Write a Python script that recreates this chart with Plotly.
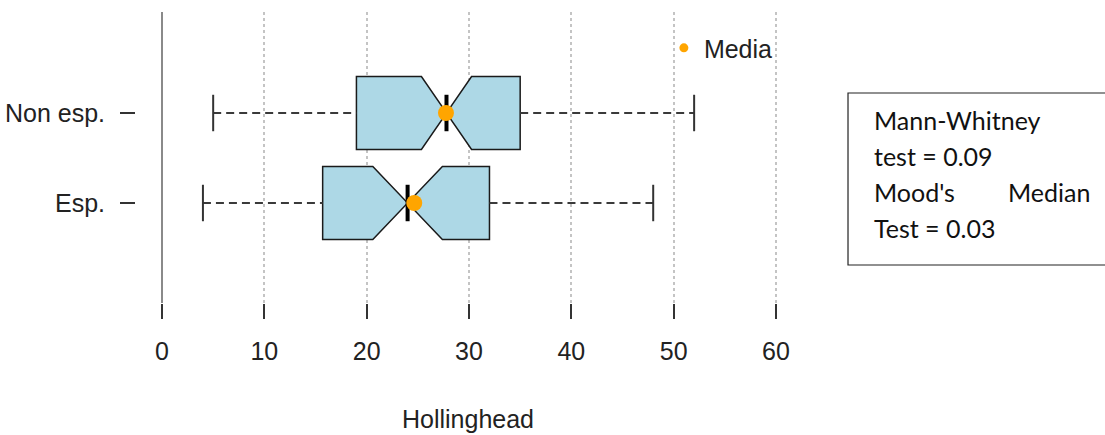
import plotly.graph_objects as go

# Groups (drawn top to bottom: Non esp., Esp.)
groups = ["Non esp.", "Esp."]
positions = [2, 1]

# Five-number summaries of Hollinghead scores
lower_whisker = [5.0, 4.0]
q1 = [19.0, 15.7]
median = [27.8, 24.0]
q3 = [35.0, 32.0]
upper_whisker = [52.0, 48.0]
notch_half = [2.45, 3.4]
means = [27.75, 24.65]

x_ticks = [0, 10, 20, 30, 40, 50, 60]

BOX_W = 0.81
CAP_HALF = BOX_W / 4
NOTCH_HALF = BOX_W / 4

axis_font = dict(family="Liberation Sans, Arial, sans-serif", size=25, color="#222222")
note_font = dict(family="Lato, Carlito, Calibri, sans-serif", size=25, color="#111111")

fig = go.Figure()

# Notched boxes (whiskers drawn separately so they can be dashed)
fig.add_trace(go.Box(
    orientation="h",
    y=positions,
    q1=q1, median=median, q3=q3,
    lowerfence=q1, upperfence=q3,
    notched=True,
    notchspan=notch_half,
    notchwidth=0.5,
    width=BOX_W,
    whiskerwidth=0,
    fillcolor="#ADD8E6",
    line=dict(color="#1a1a1a", width=1.5),
    boxpoints=False,
    hoverinfo="skip",
    showlegend=False,
))

# Dashed whiskers
wx, wy = [], []
for lo, a, b, hi, p in zip(lower_whisker, q1, q3, upper_whisker, positions):
    wx += [lo, a, None, b, hi, None]
    wy += [p, p, None, p, p, None]
fig.add_trace(go.Scatter(
    x=wx, y=wy, mode="lines",
    line=dict(color="#3a3a3a", width=2, dash="8px,5px"),
    hoverinfo="skip", showlegend=False,
))

# Whisker caps
cx, cy = [], []
for lo, hi, p in zip(lower_whisker, upper_whisker, positions):
    cx += [lo, lo, None, hi, hi, None]
    cy += [p - CAP_HALF, p + CAP_HALF, None, p - CAP_HALF, p + CAP_HALF, None]
fig.add_trace(go.Scatter(
    x=cx, y=cy, mode="lines",
    line=dict(color="#333333", width=2),
    hoverinfo="skip", showlegend=False,
))

# Heavy median bars
mx, my = [], []
for m, p in zip(median, positions):
    mx += [m, m, None]
    my += [p - NOTCH_HALF, p + NOTCH_HALF, None]
fig.add_trace(go.Scatter(
    x=mx, y=my, mode="lines",
    line=dict(color="#000000", width=4),
    hoverinfo="skip", showlegend=False,
))

# Group means
fig.add_trace(go.Scatter(
    x=means, y=positions, mode="markers",
    marker=dict(color="#FFA500", size=16),
    hoverinfo="skip", showlegend=False,
))
# Legend key for the means
fig.add_trace(go.Scatter(
    x=[None], y=[None], mode="markers", name="Media",
    marker=dict(color="#FFA500", size=9),
    showlegend=True,
))

# Test results box
fig.add_shape(type="rect", xref="paper", yref="paper",
              x0=1.0723, x1=1.6, y0=0.1306, y1=0.7216,
              line=dict(color="#222222", width=1.2), fillcolor="rgba(0,0,0,0)")
note_lines = [("Mann-Whitney", 0.6289), ("test = 0.09", 0.5052),
              ("Mood's", 0.3814), ("Test = 0.03", 0.2577)]
for txt, yp in note_lines:
    fig.add_annotation(text=txt, xref="paper", yref="paper", x=1.1084, y=yp,
                       xanchor="left", yanchor="middle", showarrow=False, font=note_font)
fig.add_annotation(text="Median", xref="paper", yref="paper", x=1.4398, y=0.3814,
                   xanchor="right", yanchor="middle", showarrow=False, font=note_font)

px_per_unit = (776 - 162) / 60
fig.update_layout(
    width=1105, height=435,
    margin=dict(l=136, r=305, t=12, b=132, pad=0),
    paper_bgcolor="white", plot_bgcolor="white",
    showlegend=True,
    legend=dict(x=0.795, y=0.955, xanchor="left", yanchor="top",
                font=axis_font, bgcolor="rgba(0,0,0,0)", borderwidth=0),
    xaxis=dict(
        automargin=False,
        range=[-(162 - 136) / px_per_unit, 60 + (800 - 776) / px_per_unit],
        tickvals=x_ticks, ticktext=[str(v) for v in x_ticks],
        showgrid=True, gridcolor="#c4c4c4", gridwidth=1.5, griddash="dot",
        zeroline=True, zerolinecolor="#8a8a8a", zerolinewidth=2,
        showline=False,
        ticks="outside", ticklen=15, tickwidth=2, tickcolor="#333333",
        tickfont=axis_font, ticklabelstandoff=11,
        title=dict(text="Hollinghead", font=axis_font, standoff=46),
    ),
    yaxis=dict(
        automargin=False,
        range=[1 - (303 - 203) / 90, 1 - (303 - 203) / 90 + 291 / 90],
        tickvals=positions, ticktext=groups,
        showgrid=False, zeroline=False, showline=False,
        ticks="outside", ticklen=15, tickwidth=2, tickcolor="#333333",
        tickfont=axis_font, ticklabelstandoff=10,
    ),
)

fig.write_html("out.html")
